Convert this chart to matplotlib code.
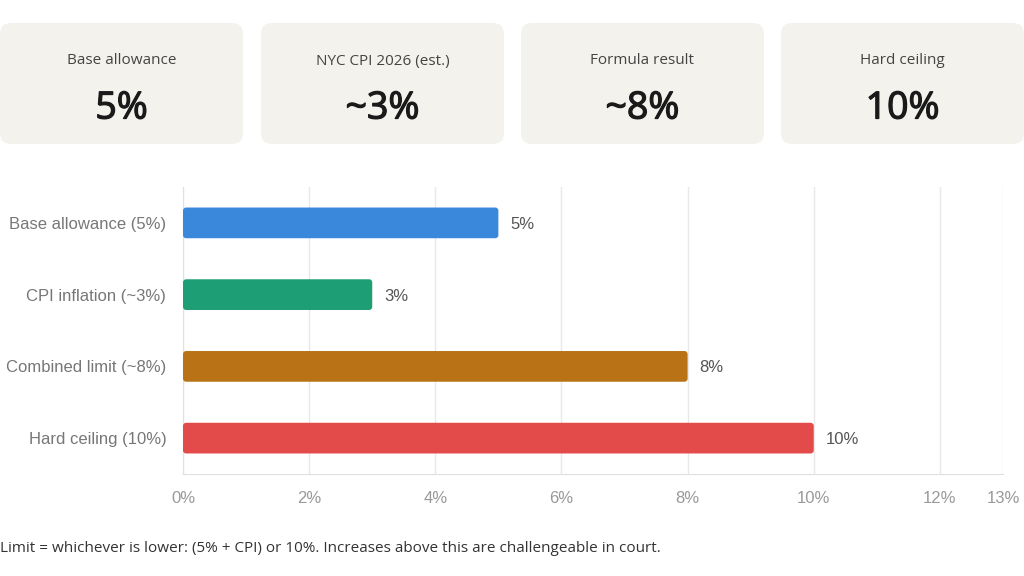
import matplotlib.pyplot as plt
import matplotlib.patheffects as pe
from matplotlib.patches import FancyBboxPatch

# cards
card_labels = ['Base allowance', 'NYC CPI 2026 (est.)', 'Formula result', 'Hard ceiling']
card_values = ['5%', '~3%', '~8%', '10%']

# bars
categories = ['Base allowance (5%)', 'CPI inflation (~3%)', 'Combined limit (~8%)', 'Hard ceiling (10%)']
values = [5, 3, 8, 10]
bar_text = ['5%', '3%', '8%', '10%']
colors = ['#3a88dc', '#1e9e75', '#b97316', '#e24b4a']
xticks = [0, 2, 4, 6, 8, 10, 12, 13]

note = 'Limit = whichever is lower: (5% + CPI) or 10%. Increases above this are challengeable in court.'

W, H = 1024, 576
fig = plt.figure(figsize=(W / 100, H / 100), dpi=100)
fig.patch.set_facecolor('white')

# background axes in pixel units for cards and footnote
bg = fig.add_axes([0, 0, 1, 1])
bg.set_xlim(0, W)
bg.set_ylim(H, 0)
bg.axis('off')

card_font = ['Open Sans', 'DejaVu Sans']
card_x = [0, 261, 521, 781]
card_w, card_y0, card_y1 = 243, 23, 144
for cx, lab, val in zip(card_x, card_labels, card_values):
    bg.add_patch(FancyBboxPatch((cx, card_y0), card_w, card_y1 - card_y0,
                                boxstyle='round,pad=0,rounding_size=11',
                                facecolor='#f3f2ec', edgecolor='none'))
    bg.text(cx + card_w / 2, 59, lab, ha='center', va='center_baseline',
            fontsize=11, color='#444444', family=card_font)
    bg.text(cx + card_w / 2, 104, val, ha='center', va='center_baseline',
            fontsize=27, color='#1a1a1a', family=card_font,
            path_effects=[pe.withStroke(linewidth=0.9, foreground='#1a1a1a')])

bg.text(0, 546, note, ha='left', va='center_baseline', fontsize=11, color='#333333', family=card_font)

# chart axes: x 183..1003, y 187..474
ax = fig.add_axes([183 / W, 1 - 474 / H, (1003 - 183) / W, (474 - 187) / H])
ypos = list(range(len(categories)))
bars = ax.barh(ypos, values, height=0.43, color='none')
ax.set_xlim(0, 13)
ax.set_ylim(3.5, -0.5)

for b, c in zip(bars, colors):
    x0, y0 = b.get_x(), b.get_y()
    w, h = b.get_width(), b.get_height()
    fp = FancyBboxPatch((x0 + 0.05, y0 + 0.045), w - 0.1, h - 0.09,
                        boxstyle='round,pad=0.05', mutation_aspect=0.88,
                        facecolor=c, edgecolor='none', zorder=3)
    ax.add_patch(fp)

for y, v, t in zip(ypos, values, bar_text):
    ax.text(v + 0.19, y, t, va='center_baseline', ha='left', fontsize=12, color='#555555',
            family='Liberation Sans', zorder=4)

ax.set_xticks(xticks)
ax.set_xticklabels([f'{t}%' for t in xticks], family='Liberation Sans', fontsize=12, color='#999999')
ax.set_yticks(ypos)
ax.set_yticklabels(categories, family='Liberation Sans', fontsize=12, color='#777777')
ax.tick_params(axis='both', length=0)
ax.tick_params(axis='x', pad=12)
ax.tick_params(axis='y', pad=12)
ax.grid(axis='x', color='#e8e8e8', linewidth=1)
ax.set_axisbelow(True)
for s in ['top', 'right']:
    ax.spines[s].set_visible(False)
ax.spines['left'].set_color('#e0e0e0')
ax.spines['bottom'].set_color('#e0e0e0')

fig.savefig('out.png', dpi=100, facecolor='white')
